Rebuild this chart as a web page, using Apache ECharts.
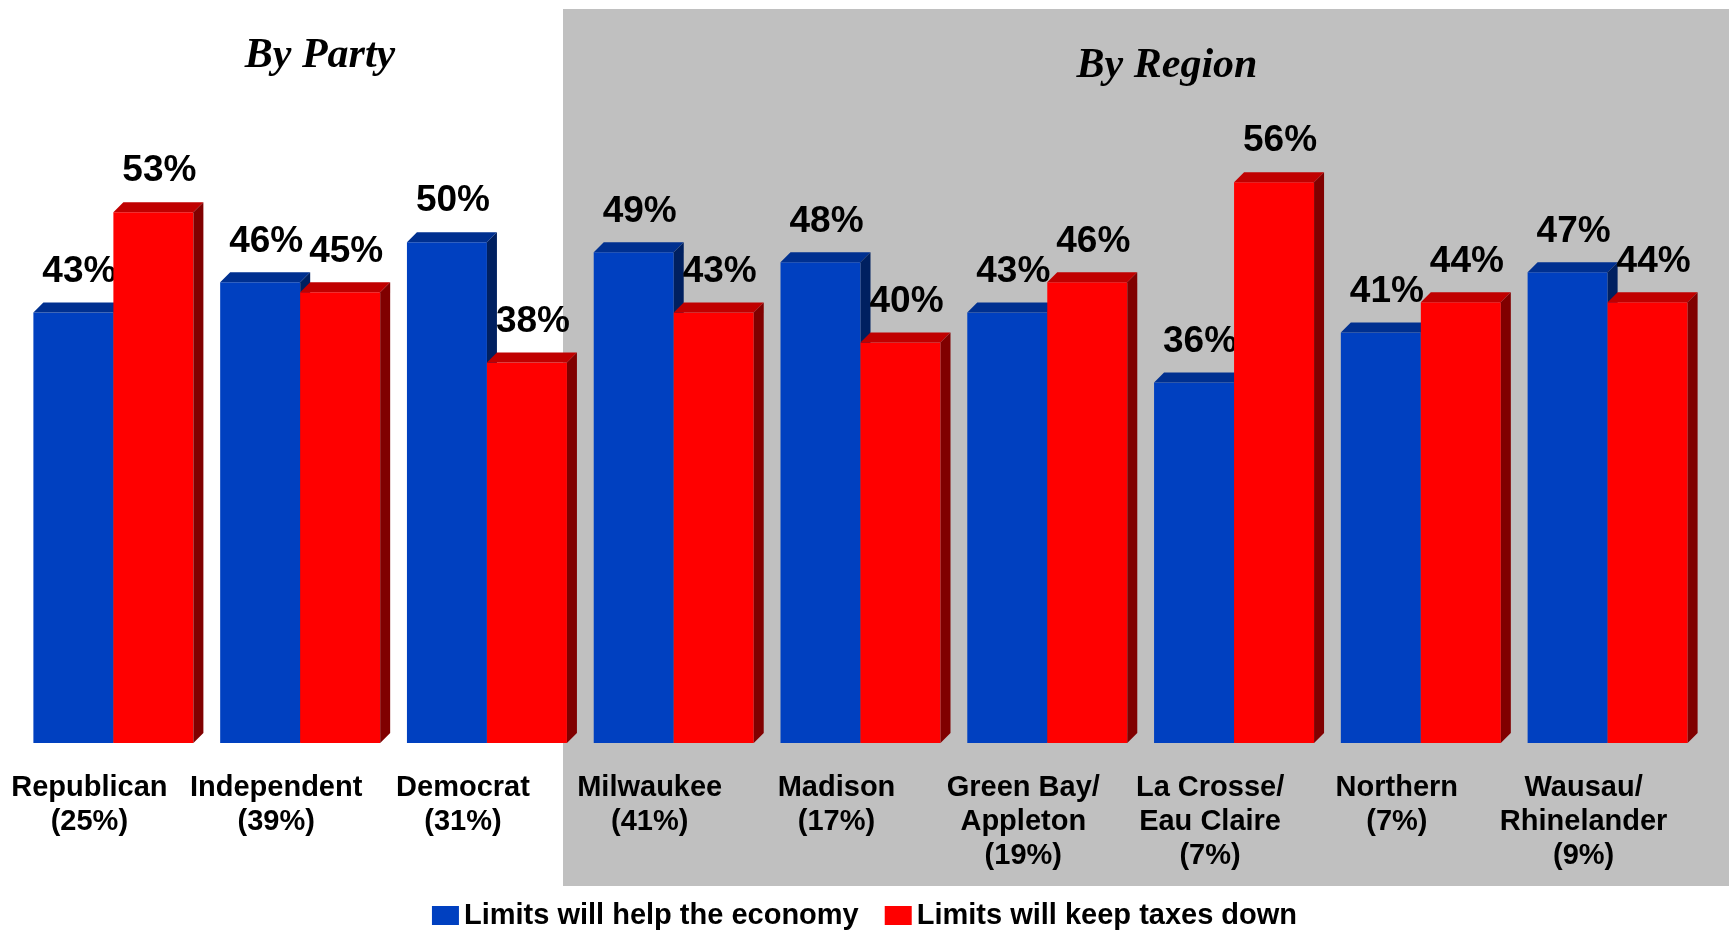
<!DOCTYPE html>
<html><head><meta charset="utf-8">
<script src="https://cdn.jsdelivr.net/npm/echarts@6/dist/echarts.min.js"></script>
<style>html,body{margin:0;padding:0;background:#fff}#c{width:1729px;height:930px}</style>
</head><body><div id="c"></div>
<script>
const categories = ['Republican\n(25%)','Independent\n(39%)','Democrat\n(31%)','Milwaukee\n(41%)','Madison\n(17%)','Green Bay/\nAppleton\n(19%)','La Crosse/\nEau Claire\n(7%)','Northern\n(7%)','Wausau/\nRhinelander\n(9%)'];
const helpEconomy = [43,46,50,49,48,43,36,41,47];
const keepTaxesDown = [53,45,38,43,40,46,56,44,44];
const seriesNames = ['Limits will help the economy','Limits will keep taxes down'];
const panelTitles = ['By Party','By Region'];

const chart = echarts.init(document.getElementById('c'));
const BAR_W = 80, D = 10;
const SANS = '"Liberation Sans", Arial, sans-serif';
function make3D(side, colors){
  return function(params, api){
    const idx = api.value(0), val = api.value(1);
    const top = api.coord([idx, val]);
    const base = api.coord([idx, 0]);
    const cx = top[0];
    const x0 = side === 0 ? cx - BAR_W : cx;
    const x1 = x0 + BAR_W;
    const yt = top[1], yb = base[1];
    return {type:'group', children:[
      {type:'rect', shape:{x:x0,y:yt,width:BAR_W,height:yb-yt}, style:{fill:colors.front}},
      {type:'polygon', shape:{points:[[x0,yt],[x0+D,yt-D],[x1+D,yt-D],[x1,yt]]}, style:{fill:colors.top}},
      {type:'polygon', shape:{points:[[x1,yt],[x1+D,yt-D],[x1+D,yb-D],[x1,yb]]}, style:{fill:colors.side}},
      {type:'text', x: x0 + BAR_W/2 + 6, y: yt - 41, style:{text: val+'%', fill:'#000', font:'bold 37px ' + SANS, align:'center', verticalAlign:'middle'}}
    ]};
  };
}
const blue = {front:'#0040C0', top:'#003090', side:'#002060'};
const red = {front:'#FF0000', top:'#C00000', side:'#800000'};

chart.setOption({
  animation:false,
  backgroundColor:'#fff',
  graphic:[
    {type:'rect', z:-10, shape:{x:563,y:9,width:1166,height:877}, style:{fill:'#C0C0C0'}, silent:true},
    {type:'text', x:320, y:56, style:{text:panelTitles[0], font:'italic bold 42px "Liberation Serif", "Times New Roman", serif', fill:'#000', align:'center', verticalAlign:'middle'}},
    {type:'text', x:1167, y:66, style:{text:panelTitles[1], font:'italic bold 42px "Liberation Serif", "Times New Roman", serif', fill:'#000', align:'center', verticalAlign:'middle'}}
  ],
  grid:{left:20, right:28, top:42, bottom:187, containLabel:false},
  legend:{
    data:seriesNames, icon:'rect', itemWidth:27, itemHeight:19, itemGap:26,
    left:'center', top:896,
    textStyle:{fontSize:29, fontWeight:'bold', color:'#000', fontFamily:SANS}
  },
  xAxis:{
    type:'category', data:categories,
    axisLine:{show:false}, axisTick:{show:false}, splitLine:{show:false},
    axisLabel:{interval:0, fontSize:29, fontWeight:'bold', color:'#000', fontFamily:SANS, lineHeight:34, margin:28, padding:[0,48,0,0]}
  },
  yAxis:{type:'value', min:0, max:70, show:false, splitLine:{show:false}},
  series:[
    {name:seriesNames[0], type:'custom', itemStyle:{color:blue.front}, renderItem:make3D(0, blue),
     encode:{x:0,y:1}, data:helpEconomy.map((v,i)=>[i,v]), z:2},
    {name:seriesNames[1], type:'custom', itemStyle:{color:red.front}, renderItem:make3D(1, red),
     encode:{x:0,y:1}, data:keepTaxesDown.map((v,i)=>[i,v]), z:3}
  ]
});
</script></body></html>
